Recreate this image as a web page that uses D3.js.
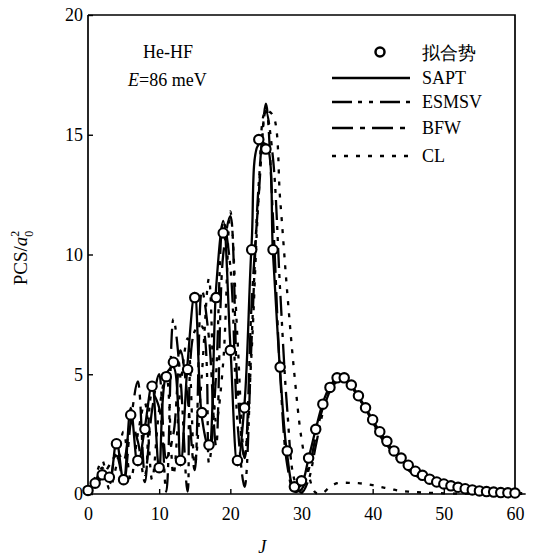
<!DOCTYPE html>
<html>
<head>
<meta charset="utf-8">
<script src="https://cdn.jsdelivr.net/npm/d3@7"></script>
<style>
  body { margin: 0; background: #fff; }
  svg text { font-family: "Liberation Serif", "DejaVu Serif", serif; fill: #000; }
</style>
</head>
<body>
<svg id="chart" width="540" height="558"></svg>
<script>
// J values (integer partial waves)
var jFit = d3.range(0, 61);
var jLine = d3.range(0, 62);

// fitted potential (circles)
var pcsFit = [0.15, 0.45, 0.8, 0.7, 2.1, 0.6, 3.3, 1.4, 2.7, 4.5,
  1.1, 4.9, 5.5, 1.4, 5.2, 8.2, 3.4, 2.05, 8.2, 10.9,
  6.0, 1.4, 3.6, 10.2, 14.8, 14.4, 10.2, 5.3, 1.8, 0.3,
  0.55, 1.5, 2.7, 3.75, 4.45, 4.85, 4.85, 4.55, 4.1, 3.6,
  3.1, 2.6, 2.2, 1.8, 1.5, 1.2, 0.95, 0.78, 0.62, 0.5,
  0.42, 0.34, 0.28, 0.22, 0.17, 0.13, 0.1, 0.08, 0.06, 0.05, 0.04];

var pcsSAPT = [0.1, 0.4, 0.9, 0.6, 2.2, 0.5, 3.6, 1.2, 2.8, 4.6,
  1.0, 5.0, 5.3, 1.2, 5.5, 8.4, 3.2, 1.9, 8.6, 11.4,
  6.2, 1.2, 3.8, 10.5, 14.6, 14.6, 10.0, 5.1, 1.6, 0.2,
  0.4, 1.5, 2.7, 3.8, 4.5, 4.85, 4.85, 4.55, 4.1, 3.6,
  3.1, 2.6, 2.15, 1.75, 1.45, 1.15, 0.9, 0.72, 0.56, 0.45,
  0.36, 0.29, 0.23, 0.18, 0.14, 0.11, 0.08, 0.06, 0.05, 0.04, 0.03, 0.02];

var pcsESMSV = [0.1, 0.5, 1.1, 0.4, 1.8, 1.4, 3.0, 2.2, 0.5, 4.2,
  3.6, 0.1, 7.3, 4.8, 0.1, 6.8, 7.0, 1.3, 5.0, 11.4,
  9.5, 3.0, 0.3, 6.5, 13.0, 16.0, 14.0, 8.5, 3.5, 0.6,
  0.05, 0.6, 2.0, 3.4, 4.3, 4.7, 4.8, 4.5, 4.05, 3.5,
  2.95, 2.45, 2.0, 1.6, 1.28, 1.0, 0.78, 0.6, 0.47, 0.37,
  0.29, 0.23, 0.18, 0.14, 0.11, 0.08, 0.06, 0.05, 0.04, 0.03, 0.02, 0.02];

var pcsBFW = [0.2, 0.4, 0.7, 1.2, 1.6, 0.5, 3.0, 4.7, 0.8, 3.5,
  5.0, 1.5, 2.5, 6.0, 4.0, 1.0, 8.5, 6.5, 2.0, 10.0,
  11.6, 4.5, 1.5, 8.0, 12.5, 16.3, 11.5, 5.0, 1.2, 0.1,
  0.2, 1.0, 2.4, 3.6, 4.4, 4.8, 4.85, 4.5, 4.05, 3.55,
  3.0, 2.5, 2.05, 1.65, 1.32, 1.04, 0.82, 0.64, 0.5, 0.4,
  0.31, 0.25, 0.2, 0.15, 0.12, 0.09, 0.07, 0.05, 0.04, 0.03, 0.02, 0.02];

var pcsCL = [0.1, 0.7, 1.4, 0.2, 1.2, 2.6, 0.6, 2.5, 3.8, 0.6,
  3.5, 5.0, 0.8, 4.5, 6.5, 1.2, 5.0, 9.0, 3.0, 5.5,
  11.8, 6.5, 1.5, 6.0, 12.5, 16.0, 15.8, 12.3, 8.4, 5.0,
  2.3, 0.8, 0.05, 0.05, 0.3, 0.45, 0.47, 0.46, 0.45, 0.42,
  0.37, 0.3, 0.24, 0.18, 0.13, 0.1, 0.08, 0.06, 0.05, 0.04,
  0.03, 0.02, 0.02, 0.02, 0.01, 0.01, 0.01, 0.01, 0.01, 0.01, 0.01, 0.01];

var xTicks = [0, 10, 20, 30, 40, 50, 60];
var yTicks = [0, 5, 10, 15, 20];

var legendNames = ["SAPT", "ESMSV", "BFW", "CL"];
var legendDash = ["none", "20,6,4,7,4,7", "21,7,5,7", "4,8"];

var padLeft = 88, padRight = 515, padTop = 15, padBottom = 494;
var svg = d3.select("#chart");

var x = d3.scaleLinear().domain([0, 60]).range([padLeft, padRight]);
var y = d3.scaleLinear().domain([0, 20]).range([padBottom, padTop]);

// frame
svg.append("path")
  .attr("d", "M" + padLeft + "," + padTop + "H" + padRight + "V" + padBottom)
  .attr("fill", "none").attr("stroke", "#000").attr("stroke-width", 1.7);
svg.append("line")
  .attr("x1", padLeft).attr("x2", padLeft).attr("y1", padTop).attr("y2", padBottom)
  .attr("stroke", "#000").attr("stroke-width", 1.7);
svg.append("line")
  .attr("x1", padLeft).attr("x2", x(61.5)).attr("y1", padBottom).attr("y2", padBottom)
  .attr("stroke", "#000").attr("stroke-width", 1.7);

// axes
var xAxis = svg.append("g").attr("transform", "translate(0," + padBottom + ")")
  .call(d3.axisBottom(x).tickValues(xTicks).tickSizeInner(-5).tickSizeOuter(0).tickPadding(13));
var yAxis = svg.append("g").attr("transform", "translate(" + padLeft + ",0)")
  .call(d3.axisLeft(y).tickValues(yTicks).tickSizeInner(-5).tickSizeOuter(0).tickPadding(5));
[xAxis, yAxis].forEach(function (g) {
  g.select(".domain").remove();
  g.selectAll("line").attr("stroke-width", 1.4);
  g.selectAll("text").attr("font-size", 18).attr("font-family", "Liberation Serif, DejaVu Serif, serif");
});

// axis titles
svg.append("text").attr("x", x(24.5)).attr("y", 553).attr("text-anchor", "middle")
  .attr("font-size", 18).attr("font-style", "italic").text("J");

var yl = svg.append("text").attr("transform", "translate(27,258) rotate(-90)")
  .attr("text-anchor", "middle").attr("font-size", 19);
yl.append("tspan").text("PCS/");
yl.append("tspan").attr("font-style", "italic").text("a");
yl.append("tspan").attr("font-size", 12).attr("dy", -8).text("2");
yl.append("tspan").attr("font-size", 12).attr("dx", -6).attr("dy", 14).text("0");

// annotation
svg.append("text").attr("x", 143).attr("y", 58).attr("font-size", 18).text("He-HF");
var en = svg.append("text").attr("x", 128).attr("y", 86).attr("font-size", 18);
en.append("tspan").attr("font-style", "italic").text("E");
en.append("tspan").text("=86 meV");

// curves
var series = [pcsSAPT, pcsESMSV, pcsBFW, pcsCL];
var line = d3.line()
  .x(function (d, i) { return x(jLine[i]); })
  .y(function (d) { return y(Math.max(0, d)); })
  .curve(d3.curveCatmullRom.alpha(0.5));

series.forEach(function (s, k) {
  svg.append("path").datum(s)
    .attr("d", line)
    .attr("fill", "none").attr("stroke", "#000")
    .attr("stroke-width", 2.3)
    .attr("stroke-dasharray", legendDash[k]);
});

// fitted circles
svg.append("g").selectAll("circle").data(pcsFit).join("circle")
  .attr("cx", function (d, i) { return x(jFit[i]); })
  .attr("cy", function (d) { return y(d); })
  .attr("r", 4.7)
  .attr("fill", "#fff").attr("stroke", "#000").attr("stroke-width", 2.1);

// legend
var lg = svg.append("g");
lg.append("circle").attr("cx", 380).attr("cy", 52).attr("r", 4.5)
  .attr("fill", "#fff").attr("stroke", "#000").attr("stroke-width", 2.5);
lg.append("text").attr("x", 422).attr("y", 59).attr("font-size", 18)
  .attr("font-family", "Noto Sans CJK SC").text("拟合势");
var rows = [78, 102, 128, 156];
legendNames.forEach(function (n, k) {
  lg.append("line").attr("x1", 332).attr("x2", 410)
    .attr("y1", rows[k]).attr("y2", rows[k])
    .attr("stroke", "#000").attr("stroke-width", 2.4)
    .attr("stroke-dasharray", legendDash[k]);
  lg.append("text").attr("x", 422).attr("y", rows[k] + 6).attr("font-size", 18).text(n);
});
</script>
</body>
</html>
